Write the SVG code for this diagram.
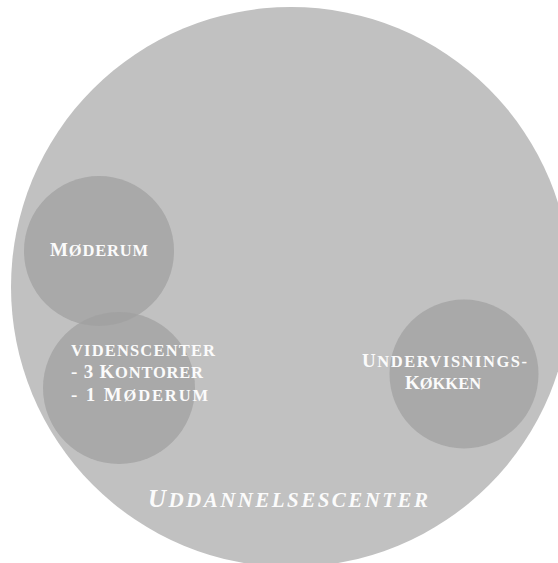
<svg xmlns="http://www.w3.org/2000/svg" width="558" height="563" viewBox="0 0 558 563">
  <style>
    .outer { fill: #c1c1c1; }
    .room { fill: #a0a0a0; fill-opacity: 0.75; }
    .lbl { font-family: "Liberation Serif", "DejaVu Serif", serif; fill: #fbfbfb; font-size: 16.5px; font-weight: bold; }
    .big { font-size: 19px; }
    .main { font-family: "Liberation Serif", "DejaVu Serif", serif; fill: #fbfbfb; font-style: italic; font-weight: bold; font-size: 21px; }
    .mainbig { font-size: 25px; }
  </style>
  <rect width="558" height="563" fill="#ffffff"/>
  <g id="uddannelsescenter">
    <circle class="outer" cx="291" cy="287" r="280"/>
    <text class="main" x="148" y="507" textLength="280" lengthAdjust="spacing"><tspan class="mainbig">U</tspan>DDANNELSESCENTER</text>
  </g>
  <g id="connectors"/>
  <g id="moderum">
    <circle class="room" cx="99" cy="251" r="75"/>
    <text class="lbl" x="50" y="256" textLength="98" lengthAdjust="spacing"><tspan class="big">M</tspan>ØDERUM</text>
  </g>
  <g id="videnscenter">
    <circle class="room" cx="119" cy="388" r="76"/>
    <text class="lbl" x="71" y="356" textLength="144" lengthAdjust="spacing">VIDENSCENTER</text>
    <text class="lbl" x="71" y="378" textLength="132" lengthAdjust="spacing"><tspan class="big">- 3 K</tspan>ONTORER</text>
    <text class="lbl" x="71" y="401" textLength="137" lengthAdjust="spacing"><tspan class="big">- 1 M</tspan>ØDERUM</text>
  </g>
  <g id="undervisningskokken">
    <circle class="room" cx="464" cy="374" r="74.5"/>
    <text class="lbl" x="362" y="367" textLength="165" lengthAdjust="spacing"><tspan class="big">U</tspan>NDERVISNINGS-</text>
    <text class="lbl" x="443" y="389" text-anchor="middle"><tspan class="big">K</tspan>ØKKEN</text>
  </g>
</svg>
